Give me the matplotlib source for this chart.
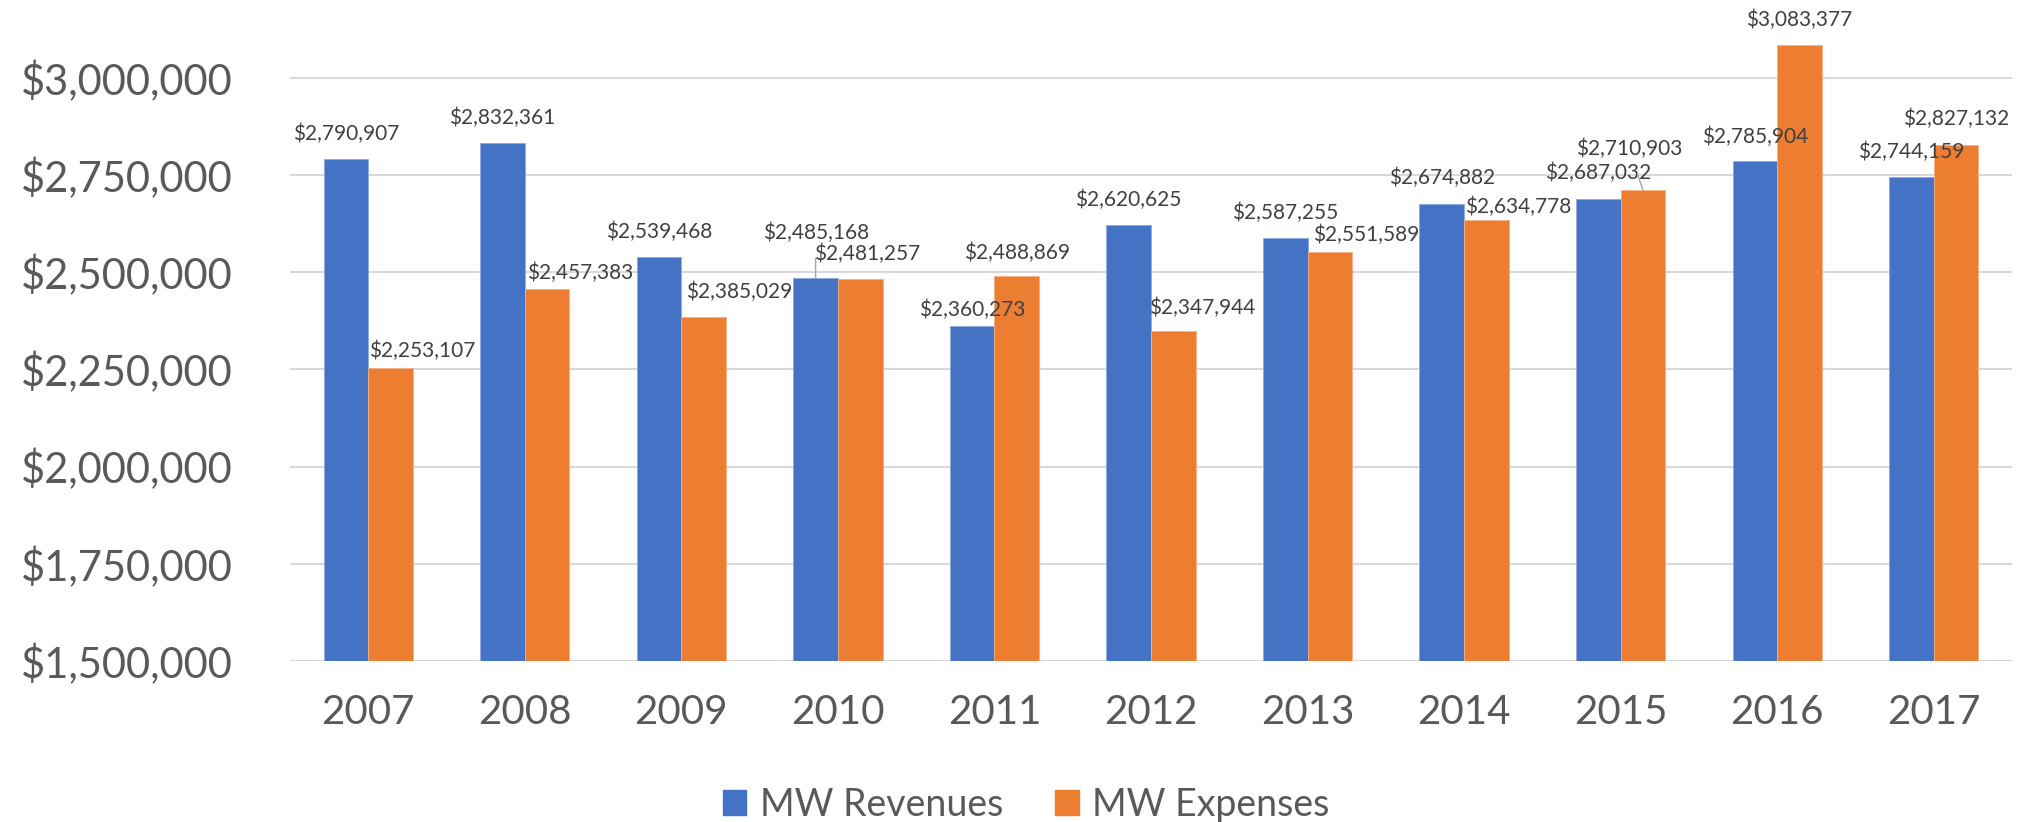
import numpy as np
import matplotlib.pyplot as plt
from matplotlib.ticker import FuncFormatter
from matplotlib.patches import Patch

# ── data ─────────────────────────────────────────
years = ['2007', '2008', '2009', '2010', '2011', '2012',
         '2013', '2014', '2015', '2016', '2017']
revenues = [2790907, 2832361, 2539468, 2485168, 2360273, 2620625,
            2587255, 2674882, 2687032, 2785904, 2744159]
expenses = [2253107, 2457383, 2385029, 2481257, 2488869, 2347944,
            2551589, 2634778, 2710903, 3083377, 2827132]

# label centre offsets from bar top (pixels), some were dragged in the original
rev_off = [(0, 25), (0, 25), (0, 25), (0, 45), (0, 17), (0, 25),
           (0, 25), (0, 26), (0, 26), (0, 24), (0, 25)]
exp_off = [(32, 17), (33, 16), (35, 25), (7, 25), (0, 24), (29, 23),
           (36, 17), (32, 13), (-14, 41), (0, 25), (0, 26)]
leaders = {('rev', 3), ('exp', 8)}

BLUE, ORANGE = '#4472C4', '#ED7D31'
TXT, LBL, GRID = '#595959', '#404040', '#D9D9D9'

plt.rcParams['font.family'] = ['Lato', 'DejaVu Sans']

fig = plt.figure(figsize=(20.28, 8.22), dpi=100)
ax = fig.add_axes([290/2028, 1-661/822, (2012-290)/2028, 661/822])

x = np.arange(len(years))
w = 0.285
b1 = ax.bar(x - w/2, revenues, w, color=BLUE, edgecolor='#8FAADC', linewidth=0.6, zorder=2)
b2 = ax.bar(x + w/2, expenses, w, color=ORANGE, edgecolor='#F4B183', linewidth=0.6, zorder=2)

ax.set_xlim(-0.5, len(years) - 0.5)
ax.set_ylim(1_500_000, 3_199_600)
ax.set_yticks(np.arange(1_500_000, 3_000_001, 250_000))
ax.yaxis.set_major_formatter(FuncFormatter(lambda v, p: f'${v:,.0f}'))
ax.set_xticks(x)
ax.set_xticklabels(years)
ax.tick_params(axis='y', length=0, pad=41, labelsize=30, labelcolor=TXT)
ax.tick_params(axis='x', length=0, pad=24, labelsize=29, labelcolor=TXT)
ax.grid(axis='y', color=GRID, linewidth=1.5, zorder=0)
for s in ax.spines.values():
    s.set_visible(False)

def label(bars, vals, offs, key):
    for i, (bar, v, (dx, dy)) in enumerate(zip(bars, vals, offs)):
        cx = bar.get_x() + bar.get_width()/2
        arrow = None
        if (key, i) in leaders:
            arrow = dict(arrowstyle='-', color='#A6A6A6', lw=1.0,
                         shrinkA=9, shrinkB=0)
        ax.annotate(f'${v:,.0f}', (cx, v), xytext=(dx, dy),
                    textcoords='offset pixels', ha='center', va='center',
                    fontsize=15, color=LBL, arrowprops=arrow, zorder=3)

label(b1, revenues, rev_off, 'rev')
label(b2, expenses, exp_off, 'exp')

handles = [Patch(color=BLUE, label='MW Revenues'),
           Patch(color=ORANGE, label='MW Expenses')]
fig.legend(handles=handles, loc='center', bbox_to_anchor=(0.506, 0.021),
           ncol=2, frameon=False, fontsize=27, labelcolor=TXT,
           handlelength=0.62, handleheight=0.62, handletextpad=0.36,
           columnspacing=1.4, borderaxespad=0, borderpad=0)

fig.savefig('out.png', dpi=100)
